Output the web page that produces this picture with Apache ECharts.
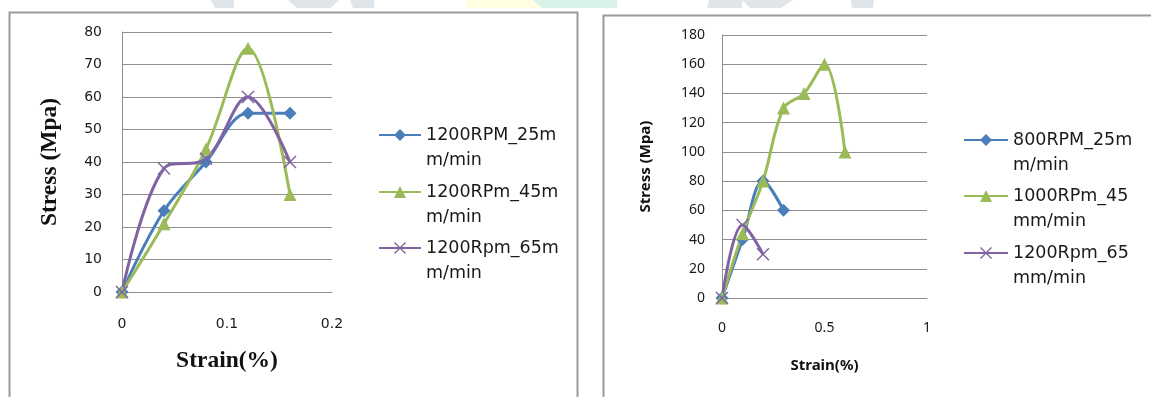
<!DOCTYPE html>
<html>
<head>
<meta charset="utf-8">
<script src="https://cdn.jsdelivr.net/npm/echarts@6/dist/echarts.min.js"></script>
<style>
html,body{margin:0;padding:0;background:#fff;}
#chart{width:1151px;height:397px;}
</style>
</head>
<body>
<div id="chart"></div>
<script>
// ---------- data ----------
const leftStrain = [0, 0.04, 0.08, 0.12, 0.16];
const left25 = [0, 25, 40, 55, 55];
const left45 = [0, 21, 44, 75, 30];
const left65 = [0, 38, 41, 60, 40];
const leftNames = ['1200RPM_25m\nm/min', '1200RPm_45m\nm/min', '1200Rpm_65m\nm/min'];

const rightStrain = [0, 0.1, 0.2, 0.3, 0.4, 0.5, 0.6];
const right800 = [0, 40, 80, 60];
const right1000 = [0, 44, 80, 130, 140, 160, 100];
const right1200 = [0, 50, 30];
const rightNames = ['800RPM_25m\nm/min', '1000RPm_45\nmm/min', '1200Rpm_65\nmm/min'];

const xAxisTitle = 'Strain(%)';
const yAxisTitle = 'Stress (Mpa)';

// ---------- styling ----------
const BLUE = '#4A7EBB', GREEN = '#9BBB59', PURPLE = '#8064A2';
const CROSS = 'path://M0,0.8L0.8,0L5,4.2L9.2,0L10,0.8L5.8,5L10,9.2L9.2,10L5,5.8L0.8,10L0,9.2L4.2,5Z';
const GRIDC = '#8f8f8f';

function pairs(xs, ys) { return ys.map((y, i) => [xs[i], y]); }

function mkSeries(name, xi, data, color, symbol, size) {
  return {
    name, type: 'line', xAxisIndex: xi, yAxisIndex: xi,
    data, smooth: 0.35, smoothConstraint: false,
    symbol, symbolSize: size, showSymbol: true,
    lineStyle: { color, width: 3 },
    itemStyle: { color },
    emphasis: { disabled: true },
    animation: false, z: 3
  };
}

// a blank first line keeps the icon level with the first text line
function mkLegend(name, left, centerY, iw) {
  return {
    data: [name], left, top: centerY - 37.5, orient: 'vertical', padding: 0,
    itemWidth: iw, itemHeight: 15, itemGap: 0,
    formatter: n => ' \n' + n,
    textStyle: { fontFamily: 'DejaVu Sans', fontSize: 17.5, color: '#1a1a1a', lineHeight: 25 },
    selectedMode: false
  };
}

const chart = echarts.init(document.getElementById('chart'), null, { renderer: 'canvas' });

const wm = '#dfe5e8';
const option = {
  backgroundColor: '#fff',
  animation: false,
  graphic: [
    { type: 'polygon', shape: { points: [[211,0],[234,0],[234,8],[215,8]] }, style: { fill: wm }, z: -1 },
    { type: 'polygon', shape: { points: [[288,0],[339,0],[331,8],[297,8]] }, style: { fill: wm }, z: -1 },
    { type: 'polygon', shape: { points: [[350,0],[374,0],[374,8],[353,8]] }, style: { fill: wm }, z: -1 },
    { type: 'polygon', shape: { points: [[466,0],[536,0],[540,8],[467,8]] }, style: { fill: '#fffde2' }, z: -1 },
    { type: 'polygon', shape: { points: [[533,0],[617,0],[617,8],[542,8]] }, style: { fill: '#d9f2e7' }, z: -1 },
    { type: 'polygon', shape: { points: [[709,0],[742,0],[742,8],[707,8]] }, style: { fill: wm }, z: -1 },
    { type: 'polygon', shape: { points: [[742,0],[793,0],[781,8],[750,8]] }, style: { fill: wm }, z: -1 },
    { type: 'polygon', shape: { points: [[851,0],[874,0],[873,8],[852,8]] }, style: { fill: wm }, z: -1 },
    { type: 'rect', shape: { x: 9.5, y: 12.5, width: 568, height: 420 }, style: { fill: 'none', stroke: '#9a9a9a', lineWidth: 2 }, z: 0 },
    { type: 'rect', shape: { x: 603.5, y: 15.5, width: 600, height: 420 }, style: { fill: 'none', stroke: '#9a9a9a', lineWidth: 2 }, z: 0 }
  ],
  grid: [
    { left: 122, top: 32, width: 210, height: 260, containLabel: false },
    { left: 722, top: 35, width: 205, height: 263, containLabel: false }
  ],
  xAxis: [
    {
      type: 'value', gridIndex: 0, min: 0, max: 0.2, interval: 0.1,
      name: xAxisTitle, nameLocation: 'middle', nameGap: 57,
      nameTextStyle: { fontFamily: 'Liberation Serif', fontWeight: 'bold', fontSize: 23.5, color: '#111' },
      axisLine: { show: true, lineStyle: { color: GRIDC } },
      axisTick: { show: false }, splitLine: { show: false },
      axisLabel: { margin: 25, fontFamily: 'DejaVu Sans', fontSize: 14, color: '#1a1a1a' }
    },
    {
      type: 'value', gridIndex: 1, min: 0, max: 1, interval: 0.5,
      name: xAxisTitle, nameLocation: 'middle', nameGap: 60,
      nameTextStyle: { fontFamily: 'Noto Sans', fontWeight: 'bold', fontSize: 15, color: '#111' },
      axisLine: { show: true, lineStyle: { color: GRIDC } },
      axisTick: { show: false }, splitLine: { show: false },
      axisLabel: { margin: 23, fontFamily: 'Noto Sans', fontSize: 14, color: '#1a1a1a' }
    }
  ],
  yAxis: [
    {
      type: 'value', gridIndex: 0, min: 0, max: 80, interval: 10,
      name: yAxisTitle, nameLocation: 'middle', nameGap: 60, nameRotate: 90,
      nameTextStyle: { fontFamily: 'Liberation Serif', fontWeight: 'bold', fontSize: 23.5, color: '#111' },
      axisLine: { show: true, lineStyle: { color: GRIDC } },
      axisTick: { show: false },
      splitLine: { show: true, lineStyle: { color: GRIDC, width: 1 } },
      axisLabel: { margin: 20, fontFamily: 'DejaVu Sans', fontSize: 14, color: '#1a1a1a' }
    },
    {
      type: 'value', gridIndex: 1, min: 0, max: 180, interval: 20,
      name: yAxisTitle, nameLocation: 'middle', nameGap: 69, nameRotate: 90,
      nameTextStyle: { fontFamily: 'Noto Sans', fontWeight: 'bold', fontSize: 15, color: '#111' },
      axisLine: { show: true, lineStyle: { color: GRIDC } },
      axisTick: { show: false },
      splitLine: { show: true, lineStyle: { color: GRIDC, width: 1 } },
      axisLabel: { margin: 17, fontFamily: 'Noto Sans', fontSize: 14, color: '#1a1a1a' }
    }
  ],
  legend: [
    mkLegend(leftNames[0], 378, 135, 42),
    mkLegend(leftNames[1], 378, 192, 42),
    mkLegend(leftNames[2], 378, 248, 42),
    mkLegend(rightNames[0], 963, 140, 44),
    mkLegend(rightNames[1], 963, 196, 44),
    mkLegend(rightNames[2], 963, 253, 44)
  ],
  series: [
    mkSeries(leftNames[0], 0, pairs(leftStrain, left25), BLUE, 'diamond', 13),
    mkSeries(leftNames[1], 0, pairs(leftStrain, left45), GREEN, 'triangle', 13),
    mkSeries(leftNames[2], 0, pairs(leftStrain, left65), PURPLE, CROSS, 13),
    mkSeries(rightNames[0], 1, pairs(rightStrain, right800), BLUE, 'diamond', 13),
    mkSeries(rightNames[1], 1, pairs(rightStrain, right1000), GREEN, 'triangle', 13),
    mkSeries(rightNames[2], 1, pairs(rightStrain, right1200), PURPLE, CROSS, 13)
  ]
};
chart.setOption(option);
</script>
</body>
</html>
